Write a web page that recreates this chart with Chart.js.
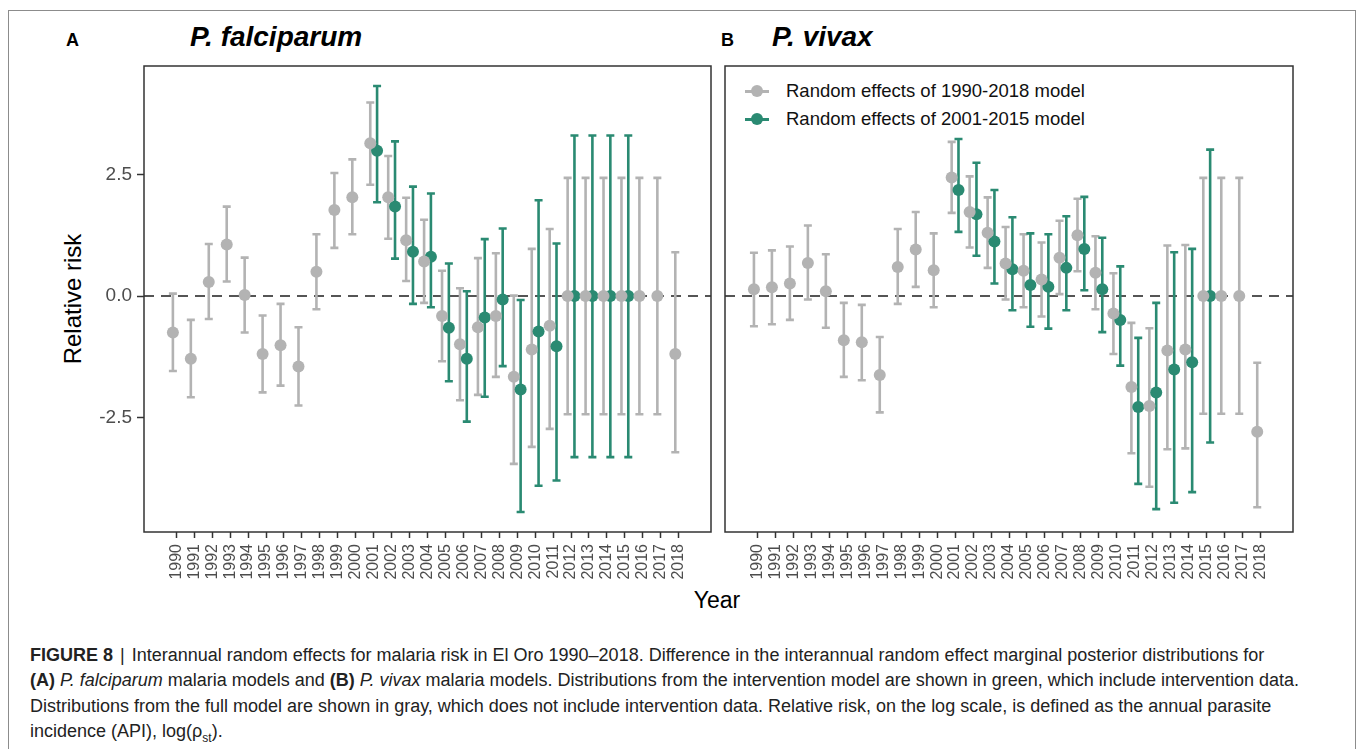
<!DOCTYPE html>
<html>
<head>
<meta charset="utf-8">
<script src="https://cdn.jsdelivr.net/npm/chart.js@4.4.1/dist/chart.umd.min.js"></script>
<style>
  html, body { margin: 0; padding: 0; background: #fff; }
  body { width: 1360px; height: 749px; position: relative; overflow: hidden; font-family: "Liberation Sans", Arial, sans-serif; }
  .frame { position: absolute; left: 8px; top: 10px; width: 1348px; height: 760px; border: 1.5px solid #8c8c8c; box-sizing: border-box; }
  canvas { position: absolute; }
  .lbl { position: absolute; white-space: nowrap; color: #000; }
  .ttl { font-weight: bold; font-style: italic; font-size: 28px; }
  .panel { font-weight: bold; font-size: 18px; }
  .legend { position: absolute; left: 745px; font-size: 18.5px; color: #111; white-space: nowrap; height: 20px; line-height: 20px; }
  .legend .key { position: absolute; left: 0; top: 0; width: 24px; height: 20px; }
  .legend .key .ln { position: absolute; left: 0; top: 9px; width: 24px; height: 3px; }
  .legend .key .dt { position: absolute; left: 6px; top: 4px; width: 12px; height: 12px; border-radius: 50%; }
  .legend .txt { position: absolute; left: 41px; top: 0; }
  .caption { position: absolute; left: 30px; top: 643px; font-size: 18px; line-height: 25.3px; color: #222; white-space: nowrap; }
  .bar { display: inline-block; margin: 0 7px 0 7px; font-weight: normal; }
</style>
</head>
<body>
<div class="frame"></div>
<div class="lbl panel" style="left:66px; top:30px;">A</div>
<div class="lbl ttl" style="left:190px; top:21px;">P. falciparum</div>
<div class="lbl panel" style="left:721px; top:30px;">B</div>
<div class="lbl ttl" style="left:772px; top:21px;">P. vivax</div>
<div class="lbl" style="left:73px; top:299px; font-size:24px; transform: translate(-50%,-50%) rotate(-90deg);">Relative risk</div>
<div class="lbl" style="left:717px; top:600px; font-size:23px; transform: translate(-50%,-50%);">Year</div>

<div class="legend" style="top:81px;"><div class="key"><div class="ln" style="background:#b3b3b3"></div><div class="dt" style="background:#b3b3b3"></div></div><div class="txt">Random effects of 1990-2018 model</div></div>
<div class="legend" style="top:109px;"><div class="key"><div class="ln" style="background:#2a8a72"></div><div class="dt" style="background:#2a8a72"></div></div><div class="txt">Random effects of 2001-2015 model</div></div>

<canvas id="cA" width="718" height="540" style="left:0; top:60px; width:718px; height:540px;"></canvas>
<canvas id="cB" width="642" height="540" style="left:718px; top:60px; width:642px; height:540px;"></canvas>

<div class="caption"><b>FIGURE 8</b><span class="bar">|</span>Interannual random effects for malaria risk in El Oro 1990–2018. Difference in the interannual random effect marginal posterior distributions for<br><b>(A)</b> <i>P. falciparum</i> malaria models and <b>(B)</b> <i>P. vivax</i> malaria models. Distributions from the intervention model are shown in green, which include intervention data.<br>Distributions from the full model are shown in gray, which does not include intervention data. Relative risk, on the log scale, is defined as the annual parasite<br>incidence (API), log(ρ<sub style="font-size:12px">st</sub>).</div>

<script>
// ---- Data ----
const years = [1990,1991,1992,1993,1994,1995,1996,1997,1998,1999,2000,2001,2002,2003,2004,2005,2006,2007,2008,2009,2010,2011,2012,2013,2014,2015,2016,2017,2018];
const greenYears = [2001,2002,2003,2004,2005,2006,2007,2008,2009,2010,2011,2012,2013,2014,2015];
const yTicks = [-2.5, 0, 2.5];

// P. falciparum, 1990-2018 model (gray)
const pfGreyMean = [-0.75,-1.29,0.29,1.06,0.02,-1.19,-1.01,-1.45,0.50,1.77,2.03,3.14,2.03,1.15,0.71,-0.41,-0.99,-0.64,-0.41,-1.66,-1.10,-0.61,0,0,0,0,0,0,-1.19];
const pfGreyLow  = [-1.54,-2.08,-0.47,0.30,-0.75,-1.98,-1.84,-2.25,-0.27,0.99,1.27,2.29,1.18,0.31,-0.14,-1.34,-2.14,-2.03,-1.66,-3.45,-3.10,-2.73,-2.43,-2.43,-2.43,-2.43,-2.43,-2.43,-3.21];
const pfGreyHigh = [0.05,-0.49,1.07,1.84,0.79,-0.40,-0.16,-0.64,1.27,2.53,2.81,3.98,2.88,2.02,1.57,0.52,0.16,0.78,0.88,0.01,0.97,1.38,2.43,2.43,2.43,2.43,2.43,2.43,0.90];
// P. falciparum, 2001-2015 model (green)
const pfGreenMean = [2.99,1.84,0.91,0.81,-0.65,-1.29,-0.44,-0.07,-1.92,-0.73,-1.03,0,0,0,0];
const pfGreenLow  = [1.93,0.77,-0.16,-0.23,-1.75,-2.58,-2.07,-1.44,-4.44,-3.90,-3.79,-3.31,-3.31,-3.31,-3.31];
const pfGreenHigh = [4.32,3.18,2.25,2.11,0.67,0.10,1.17,1.39,-0.08,1.97,1.08,3.30,3.30,3.30,3.30];

// P. vivax, 1990-2018 model (gray)
const pvGreyMean = [0.14,0.18,0.26,0.68,0.10,-0.91,-0.95,-1.62,0.60,0.96,0.53,2.44,1.73,1.30,0.67,0.52,0.34,0.79,1.25,0.48,-0.36,-1.87,-2.26,-1.12,-1.10,0,0,0,-2.79];
const pvGreyLow  = [-0.62,-0.58,-0.49,-0.07,-0.65,-1.66,-1.73,-2.39,-0.16,0.19,-0.23,1.71,1.00,0.58,-0.07,-0.23,-0.42,0.04,0.51,-0.27,-1.19,-3.23,-3.92,-3.15,-3.13,-2.42,-2.42,-2.42,-4.34];
const pvGreyHigh = [0.89,0.94,1.02,1.45,0.86,-0.14,-0.18,-0.84,1.38,1.73,1.29,3.17,2.46,2.03,1.42,1.27,1.10,1.55,2.00,1.23,0.47,-0.55,-0.66,1.04,1.05,2.43,2.43,2.43,-1.37];
// P. vivax, 2001-2015 model (green)
const pvGreenMean = [2.18,1.68,1.12,0.55,0.23,0.19,0.58,0.97,0.14,-0.49,-2.28,-1.98,-1.51,-1.36,0];
const pvGreenLow  = [1.32,0.83,0.26,-0.29,-0.63,-0.67,-0.29,0.12,-0.74,-1.43,-3.86,-4.38,-4.25,-4.03,-3.01];
const pvGreenHigh = [3.23,2.74,2.18,1.62,1.29,1.27,1.64,2.04,1.20,0.61,-0.86,-0.14,0.90,0.97,3.01];

// ---- Styling ----
const GREY = '#b3b3b3';
const GREEN = '#2a8a72';
const DODGE = 0.19;

const errorBarPlugin = {
  id: 'errorBars',
  beforeDatasetsDraw(chart) {
    const ctx = chart.ctx, xs = chart.scales.x, ys = chart.scales.y, a = chart.chartArea;
    ctx.save();
    ctx.strokeStyle = '#555555';
    ctx.lineWidth = 2;
    ctx.setLineDash([10, 7]);
    const y0 = ys.getPixelForValue(0);
    ctx.beginPath(); ctx.moveTo(a.left, y0); ctx.lineTo(a.right, y0); ctx.stroke();
    ctx.restore();
    chart.data.datasets.forEach(ds => {
      ctx.save();
      ctx.strokeStyle = ds.backgroundColor;
      ctx.lineWidth = 2.6;
      ds.data.forEach((p, i) => {
        const x = xs.getPixelForValue(p.x);
        const yl = ys.getPixelForValue(ds.errLow[i]);
        const yh = ys.getPixelForValue(ds.errHigh[i]);
        ctx.beginPath();
        ctx.moveTo(x, yl); ctx.lineTo(x, yh);
        ctx.moveTo(x - 4, yl); ctx.lineTo(x + 4, yl);
        ctx.moveTo(x - 4, yh); ctx.lineTo(x + 4, yh);
        ctx.stroke();
      });
      ctx.restore();
    });
  },
  afterDraw(chart) {
    const ctx = chart.ctx, a = chart.chartArea;
    ctx.save();
    ctx.strokeStyle = '#333333';
    ctx.lineWidth = 1.5;
    ctx.strokeRect(a.left, a.top, a.right - a.left, a.bottom - a.top);
    ctx.restore();
  }
};

function noPad(s) { s.paddingTop = 0; s.paddingBottom = 0; s.paddingLeft = 0; s.paddingRight = 0; }

function makeChart(id, gMean, gLow, gHigh, eMean, eLow, eHigh, showY, padding) {
  const greyData = years.map((yr, i) => ({ x: yr - DODGE, y: gMean[i] }));
  const greenData = greenYears.map((yr, i) => ({ x: yr + DODGE, y: eMean[i] }));
  return new Chart(document.getElementById(id), {
    type: 'scatter',
    data: {
      datasets: [
        { data: greyData, backgroundColor: GREY, borderColor: GREY, pointRadius: 6, pointBorderWidth: 0, errLow: gLow, errHigh: gHigh },
        { data: greenData, backgroundColor: GREEN, borderColor: GREEN, pointRadius: 6, pointBorderWidth: 0, errLow: eLow, errHigh: eHigh }
      ]
    },
    options: {
      responsive: false,
      animation: false,
      events: [],
      layout: { padding: padding },
      plugins: { legend: { display: false }, tooltip: { enabled: false } },
      scales: {
        x: {
          type: 'linear',
          min: 1988.2, max: 2019.8,
          afterBuildTicks: s => { s.ticks = years.map(v => ({ value: v })); },
          afterFit: s => { s.height = 68; noPad(s); },
          ticks: {
            autoSkip: false, minRotation: 90, maxRotation: 90, padding: 6,
            color: '#4d4d4d', font: { family: 'Liberation Sans', size: 16 },
            callback: v => String(v)
          },
          grid: { display: true, drawOnChartArea: false, drawTicks: true, tickLength: 6, tickWidth: 1.5, tickColor: '#333333', color: '#333333' },
          border: { display: false }
        },
        y: {
          type: 'linear',
          display: showY,
          min: -4.85, max: 4.73,
          afterBuildTicks: s => { s.ticks = yTicks.map(v => ({ value: v })); },
          afterFit: s => { if (showY) s.width = 144; noPad(s); },
          ticks: {
            padding: 5, color: '#4d4d4d', font: { family: 'Liberation Sans', size: 19 },
            callback: v => v.toFixed(1)
          },
          grid: { display: true, drawOnChartArea: false, drawTicks: true, tickLength: 7, tickWidth: 1.5, tickColor: '#333333' },
          border: { display: false }
        }
      }
    },
    plugins: [errorBarPlugin]
  });
}

makeChart('cA', pfGreyMean, pfGreyLow, pfGreyHigh, pfGreenMean, pfGreenLow, pfGreenHigh, true, { top: 6, right: 7, left: 0, bottom: 0 });
makeChart('cB', pvGreyMean, pvGreyLow, pvGreyHigh, pvGreenMean, pvGreenLow, pvGreenHigh, false, { top: 6, right: 67, left: 7, bottom: 0 });
</script>
</body>
</html>
